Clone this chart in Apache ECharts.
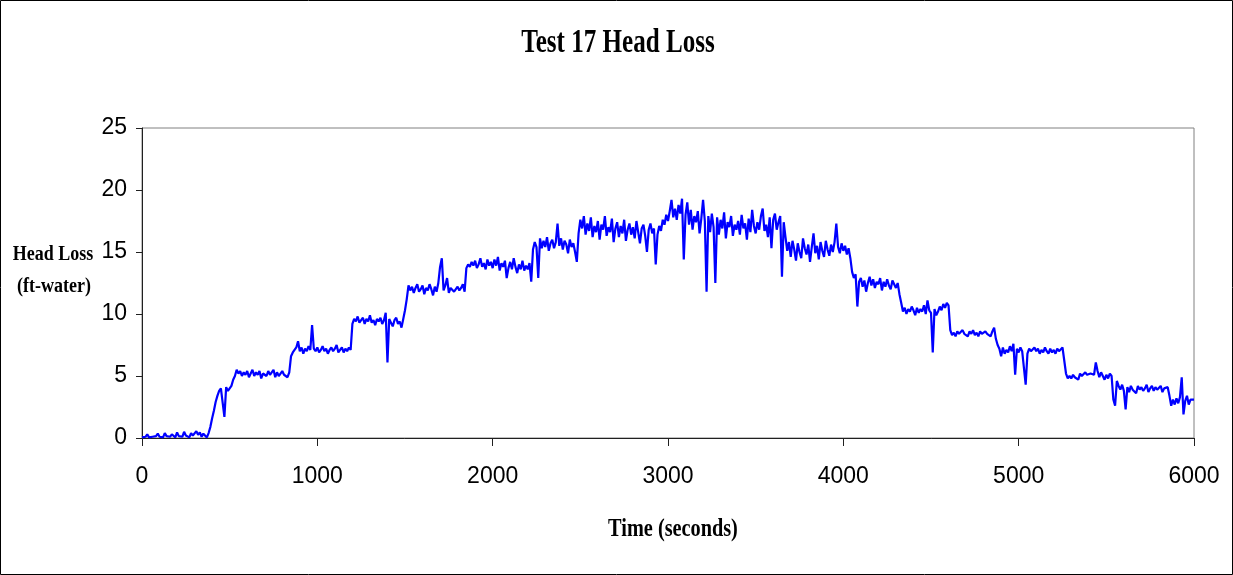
<!DOCTYPE html>
<html>
<head>
<meta charset="utf-8">
<script src="https://cdn.jsdelivr.net/npm/echarts@6/dist/echarts.min.js"></script>
<style>
  html, body { margin: 0; padding: 0; background: #ffffff; }
  #chart { width: 1233px; height: 575px; }
</style>
</head>
<body>
<div id="chart"></div>
<script>
// Chart texts
const chartTitle = 'Test 17 Head Loss';
const yAxisTitle = ['Head Loss', '(ft-water)'];
const xAxisTitle = 'Time (seconds)';

// Logger sample spacing (seconds) and recorded head loss (ft of water), one value per sample from t = 0 s
const sampleSeconds = 10;
const headLoss = [
  0.05, 0.0, 0.1, 0.3, 0.05, 0.2, 0.1, 0.0, 0.15, 0.35,
  0.1, 0.2, 0.05, 0.4, 0.15, 0.25, 0.1, 0.3, 0.2, 0.05,
  0.45, 0.15, 0.3, 0.1, 0.5, 0.2, 0.35, 0.05, 0.4, 0.2,
  0.15, 0.55, 0.25, 0.45, 0.1, 0.35, 0.5, 0.05, 0.4, 0.9,
  1.6, 2.2, 2.9, 3.4, 3.8, 4.0, 3.9, 1.7, 4.1, 3.8,
  4.0, 4.2, 4.7, 5.0, 5.5, 5.2, 5.4, 5.0, 5.3, 5.1,
  5.4, 4.9, 5.2, 5.5, 5.0, 5.3, 5.1, 5.4, 4.8, 5.2,
  5.3, 5.0, 5.4, 5.1, 5.2, 5.5, 4.9, 5.3, 5.0, 5.2,
  5.4, 5.1, 5.2, 4.9, 5.3, 6.6, 6.9, 7.1, 7.3, 7.8,
  7.0, 7.3, 6.8, 7.2, 7.0, 7.4, 7.1, 9.1, 7.2, 7.0,
  7.3, 6.9, 7.1, 7.4, 7.0, 7.2, 6.8, 7.1, 7.3, 7.0,
  7.2, 7.5, 6.9, 7.1, 7.3, 6.9, 7.2, 7.0, 7.3, 7.1,
  9.2, 9.6, 9.4, 9.8, 9.3, 9.5, 9.7, 9.2, 9.6, 9.4,
  9.9, 9.3, 9.5, 9.1, 9.6, 9.4, 9.7, 9.2, 9.5, 10.1,
  6.1, 9.6, 9.3, 9.0, 9.5, 9.7, 9.2, 9.4, 8.9, 9.6,
  10.3, 11.2, 12.3, 11.9, 12.2, 11.7, 12.1, 12.4, 11.8, 12.0,
  12.3, 11.6, 12.1, 11.9, 12.4, 12.0, 11.5, 12.2, 11.8, 12.5,
  13.8, 14.5, 11.9, 12.3, 12.9, 11.7, 12.1, 12.2, 11.8, 12.0,
  12.2, 11.9, 12.1, 12.4, 11.8, 13.7, 14.0, 13.8, 14.2, 13.9,
  14.3, 13.7, 14.0, 14.5, 13.8, 14.1, 13.6, 14.4, 13.9, 14.2,
  13.7, 14.4, 13.9, 14.6, 13.5, 14.1, 13.8, 14.3, 12.9, 13.7,
  14.2, 13.6, 14.5, 13.8, 13.3, 14.0, 13.6, 14.3, 13.5, 13.9,
  13.6, 14.1, 12.6, 15.2, 15.8, 15.4, 12.9, 16.1, 15.3, 15.9,
  15.4, 16.2, 15.1, 15.7, 16.0, 15.3, 15.8, 17.3, 15.5, 16.1,
  15.2, 15.9, 15.6, 14.9, 16.0, 15.4, 15.7, 15.0, 14.2, 16.5,
  17.6, 16.9, 17.9, 16.4, 17.3, 16.7, 17.8, 16.2, 17.1, 16.6,
  17.5, 16.0, 17.2, 16.8, 17.9, 16.3, 17.0, 16.6, 17.7, 15.8,
  16.9, 17.4, 16.2, 17.1, 16.5, 17.6, 15.9, 16.8, 17.3, 16.4,
  17.0, 16.1, 17.5, 16.6, 15.7, 16.9, 17.2, 16.3, 15.0, 16.8,
  17.3, 16.5, 16.9, 14.0, 16.4, 17.1, 16.7, 17.6, 17.2, 18.0,
  17.5, 18.3, 19.2, 17.8, 18.5, 17.6, 18.8, 18.1, 19.3, 14.4,
  18.0, 19.0, 17.2, 18.4, 16.8, 17.9, 17.4, 18.3, 16.5, 17.7,
  19.2, 17.5, 11.8, 17.9, 16.6, 18.1, 17.0, 12.5, 17.8, 16.4,
  17.6, 16.9, 18.2, 16.1, 17.4, 17.0, 17.9, 16.3, 17.2, 16.8,
  17.5, 16.4, 18.0, 16.9, 17.3, 16.0, 17.7, 16.6, 18.4, 17.1,
  16.5, 17.4, 16.8, 17.9, 18.5, 16.7, 17.2, 16.2, 17.8, 15.3,
  17.6, 18.1, 16.8, 17.4, 17.9, 13.0, 17.4, 16.2, 15.1, 15.8,
  14.6, 15.9, 15.2, 14.3, 15.7, 15.0, 14.5, 16.1, 15.3, 14.8,
  15.6, 14.2, 15.4, 16.5, 14.9, 15.5, 14.4, 15.8, 15.1, 14.6,
  15.9, 15.2, 14.7, 15.6, 15.0, 15.8, 17.3, 15.4, 14.9, 15.7,
  15.1, 15.5, 14.8, 15.3, 14.5, 13.4, 12.9, 13.2, 10.6, 12.6,
  12.9, 12.2, 12.7, 11.8, 12.5, 13.0, 12.3, 12.8, 12.1, 12.6,
  12.4, 12.9, 11.9, 12.6, 12.2, 12.8, 12.3, 12.0, 12.7, 12.4,
  12.1, 12.5, 11.6, 10.9, 10.2, 10.5, 10.0, 10.4, 10.2, 10.6,
  10.3, 9.9, 10.5, 10.1, 10.4, 10.2, 10.7, 10.0, 11.1, 10.3,
  10.1, 6.9, 10.4, 9.9, 10.2, 10.6, 10.3, 10.8, 10.5, 10.9,
  10.7, 8.7, 8.3, 8.5, 8.2, 8.6, 8.4, 8.3, 8.7, 8.4,
  8.5, 8.2, 8.6, 8.4, 8.7, 8.3, 8.5, 8.2, 8.6, 8.4,
  8.3, 8.6, 8.4, 8.5, 8.2, 8.6, 8.9, 8.0, 7.5, 7.2,
  6.6, 7.3, 6.8, 7.1, 6.9, 7.4, 7.0, 7.6, 5.1, 7.2,
  6.9, 7.3, 7.0, 7.1, 4.3, 6.8, 7.2, 7.0, 6.9, 7.3,
  7.0, 7.2, 6.8, 7.1, 6.9, 7.3, 7.0, 6.8, 7.2, 6.9,
  7.1, 6.8, 7.2, 7.0, 6.9, 7.3, 7.4, 5.2, 4.8, 5.0,
  4.8, 5.1, 4.9, 5.0, 4.7, 5.2, 5.0, 4.9, 5.3, 5.1,
  5.0, 5.2, 5.3, 5.1, 6.1, 5.4, 4.9, 5.3, 5.0, 4.7,
  5.1, 4.8, 5.2, 5.0, 3.1, 2.6, 4.6, 4.2, 3.9, 4.3,
  3.8, 2.3, 4.1, 3.7, 4.2, 3.9, 4.0, 3.6, 4.2, 3.9,
  4.1, 3.8, 4.0, 4.3, 3.7, 4.0, 4.2, 3.8, 4.1, 3.9,
  4.0, 4.2, 3.7, 4.0, 3.9, 4.1, 3.4, 2.6, 3.1, 2.7,
  3.2, 2.8, 3.3, 4.9, 1.9, 3.0, 3.4, 2.7, 3.1, 3.2,
  3.1
];

// Axis ranges
const timeRange = [0, 6000];
const timeStep = 1000;
const headRange = [0, 25];
const headStep = 5;

const points = headLoss.map((v, i) => [i * sampleSeconds, v]);

const tickFont = "'Liberation Sans', Arial, sans-serif";
const serifFont = "'Liberation Serif', 'Times New Roman', serif";
const plainNumber = v => String(v);

const chart = echarts.init(document.getElementById('chart'), null, { renderer: 'canvas' });

chart.setOption({
  animation: false,
  backgroundColor: '#ffffff',
  grid: {
    left: 142, right: 39, top: 128, bottom: 137,
    show: true, borderColor: '#808080', borderWidth: 1, backgroundColor: 'transparent'
  },
  xAxis: {
    type: 'value',
    min: timeRange[0], max: timeRange[1], interval: timeStep,
    axisLine: { show: true, lineStyle: { color: '#202020', width: 1 } },
    axisTick: { show: true, length: 8, lineStyle: { color: '#202020' } },
    axisLabel: { color: '#000', fontFamily: tickFont, fontSize: 23, margin: 27, formatter: plainNumber },
    splitLine: { show: false }
  },
  yAxis: {
    type: 'value',
    min: headRange[0], max: headRange[1], interval: headStep,
    axisLine: { show: true, lineStyle: { color: '#202020', width: 1 } },
    axisTick: { show: true, length: 6, lineStyle: { color: '#202020' } },
    axisLabel: { color: '#000', fontFamily: tickFont, fontSize: 23, margin: 15, formatter: plainNumber },
    splitLine: { show: false }
  },
  series: [{
    type: 'line',
    data: points,
    showSymbol: false,
    symbol: 'none',
    sampling: 'none',
    lineStyle: { color: '#0000ff', width: 2.2 },
    z: 3
  }],
  graphic: [
    {
      type: 'rect', silent: true, z: -10,
      shape: { x: 0.5, y: 0.5, width: 1232, height: 574 },
      style: { fill: 'none', stroke: '#000000', lineWidth: 1 }
    },
    {
      type: 'text', x: 618, y: 43, scaleX: 0.76,
      style: { text: chartTitle, font: 'bold 33px ' + serifFont, fill: '#000',
               textAlign: 'center', textVerticalAlign: 'middle' }
    },
    {
      type: 'text', x: 53, y: 255, scaleX: 0.9,
      style: { text: yAxisTitle[0], font: 'bold 20px ' + serifFont, fill: '#000',
               textAlign: 'center', textVerticalAlign: 'middle' }
    },
    {
      type: 'text', x: 54, y: 287, scaleX: 0.9,
      style: { text: yAxisTitle[1], font: 'bold 20px ' + serifFont, fill: '#000',
               textAlign: 'center', textVerticalAlign: 'middle' }
    },
    {
      type: 'text', x: 673, y: 529, scaleX: 0.78,
      style: { text: xAxisTitle, font: 'bold 26px ' + serifFont, fill: '#000',
               textAlign: 'center', textVerticalAlign: 'middle' }
    }
  ]
});
</script>
</body>
</html>
